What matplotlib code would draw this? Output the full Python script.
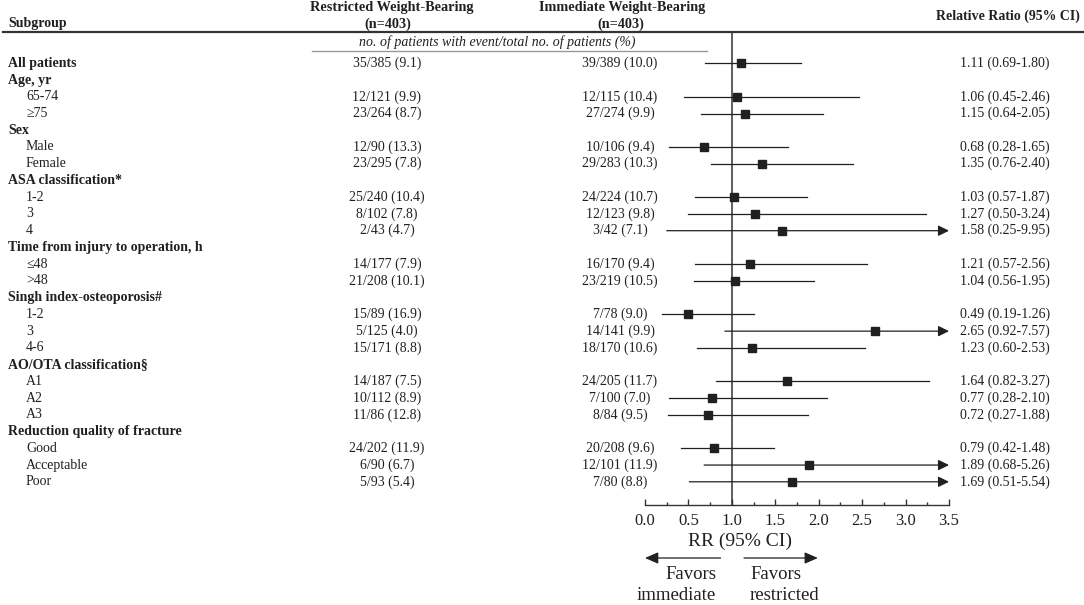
"""Forest plot of relative ratios by subgroup (restricted vs immediate weight-bearing)."""

import matplotlib
matplotlib.use("Agg")
import matplotlib.pyplot as plt
from matplotlib.lines import Line2D
from matplotlib.transforms import blended_transform_factory

# ---- data -------------------------------------------------------------
labels = [
    "All patients",
    "Age, yr", "65-74", "\u226575",
    "Sex", "Male", "Female",
    "ASA classification*", "1-2", "3", "4",
    "Time from injury to operation, h", "\u226448", ">48",
    "Singh index-osteoporosis#", "1-2", "3", "4-6",
    "AO/OTA classification\u00a7", "A1", "A2", "A3",
    "Reduction quality of fracture", "Good", "Acceptable", "Poor",
]
is_header = [
    True,
    True, False, False,
    True, False, False,
    True, False, False, False,
    True, False, False,
    True, False, False, False,
    True, False, False, False,
    True, False, False, False,
]
restricted = [
    "35/385 (9.1)",
    None, "12/121 (9.9)", "23/264 (8.7)",
    None, "12/90 (13.3)", "23/295 (7.8)",
    None, "25/240 (10.4)", "8/102 (7.8)", "2/43 (4.7)",
    None, "14/177 (7.9)", "21/208 (10.1)",
    None, "15/89 (16.9)", "5/125 (4.0)", "15/171 (8.8)",
    None, "14/187 (7.5)", "10/112 (8.9)", "11/86 (12.8)",
    None, "24/202 (11.9)", "6/90 (6.7)", "5/93 (5.4)",
]
immediate = [
    "39/389 (10.0)",
    None, "12/115 (10.4)", "27/274 (9.9)",
    None, "10/106 (9.4)", "29/283 (10.3)",
    None, "24/224 (10.7)", "12/123 (9.8)", "3/42 (7.1)",
    None, "16/170 (9.4)", "23/219 (10.5)",
    None, "7/78 (9.0)", "14/141 (9.9)", "18/170 (10.6)",
    None, "24/205 (11.7)", "7/100 (7.0)", "8/84 (9.5)",
    None, "20/208 (9.6)", "12/101 (11.9)", "7/80 (8.8)",
]
rr = [1.11, None, 1.06, 1.15, None, 0.68, 1.35, None, 1.03, 1.27, 1.58,
      None, 1.21, 1.04, None, 0.49, 2.65, 1.23, None, 1.64, 0.77, 0.72,
      None, 0.79, 1.89, 1.69]
ci_lo = [0.69, None, 0.45, 0.64, None, 0.28, 0.76, None, 0.57, 0.50, 0.25,
         None, 0.57, 0.56, None, 0.19, 0.92, 0.60, None, 0.82, 0.28, 0.27,
         None, 0.42, 0.68, 0.51]
ci_hi = [1.80, None, 2.46, 2.05, None, 1.65, 2.40, None, 1.87, 3.24, 9.95,
         None, 2.56, 1.95, None, 1.26, 7.57, 2.53, None, 3.27, 2.10, 1.88,
         None, 1.48, 5.26, 5.54]

x_max = 3.5
x_ticks = [0.0, 0.5, 1.0, 1.5, 2.0, 2.5, 3.0, 3.5]

# ---- layout -----------------------------------------------------------
W, H = 1084, 605
INK = "#231f20"
plt.rcParams["font.family"] = ["Liberation Serif", "DejaVu Serif"]
plt.rcParams["font.size"] = 10


def fx(px):
    return px / W


def fy(py):
    return 1 - py / H


fig = plt.figure(figsize=(W / 100, H / 100), dpi=100)
fig.patch.set_facecolor("white")

ax_top, ax_bot = 32, 505
row0, row_step = 63.3, 16.74
ax = fig.add_axes([fx(645), fy(ax_bot), fx(949) - fx(645), (ax_bot - ax_top) / H])
ax.set_xlim(0, x_max)
ax.set_ylim((ax_bot - row0) / row_step, -(row0 - ax_top) / row_step)
ax.patch.set_alpha(0)
for side in ["top", "left", "right"]:
    ax.spines[side].set_visible(False)
ax.spines["bottom"].set_color("#333333")
ax.spines["bottom"].set_linewidth(1.0)
ax.set_yticks([])
ax.set_xticks(x_ticks)
ax.set_xticklabels([f"{t:.1f}" for t in x_ticks], fontsize=12, color=INK)
ax.set_xticks([t + 0.25 for t in x_ticks[:-1]], minor=True)
ax.tick_params(axis="x", which="major", direction="in", length=4.5, width=1,
               color="#333333", pad=6)
ax.tick_params(axis="x", which="minor", direction="in", length=2.5, width=1,
               color="#333333")

ax.axvline(1.0, color="#333333", lw=1.1, zorder=1)

# ---- forest marks -----------------------------------------------------
for i in range(len(labels)):
    if rr[i] is None:
        continue
    hi = ci_hi[i]
    if hi > x_max:
        ax.annotate("", xy=(x_max, i), xytext=(ci_lo[i], i),
                    arrowprops=dict(arrowstyle="-|>,head_length=0.65,head_width=0.32",
                                    color=INK, lw=0.9, shrinkA=0, shrinkB=0),
                    annotation_clip=False, zorder=2)
    else:
        ax.plot([ci_lo[i], hi], [i, i], color=INK, lw=0.9, zorder=2)
    ax.plot(rr[i], i, marker="s", ms=6, color=INK, zorder=3)

# ---- text columns -----------------------------------------------------
tr = blended_transform_factory(fig.transFigure, ax.transData)
for i, lab in enumerate(labels):
    if is_header[i]:
        ax.text(fx(8), i, lab, transform=tr, ha="left", va="center",
                fontweight="bold", color=INK, clip_on=False)
    else:
        ax.text(fx(26), i, lab, transform=tr, ha="left", va="center",
                color=INK, clip_on=False)
    if restricted[i] is not None:
        ax.text(fx(387), i, restricted[i], transform=tr, ha="center",
                va="center", color=INK, clip_on=False)
        ax.text(fx(620), i, immediate[i], transform=tr, ha="center",
                va="center", color=INK, clip_on=False)
        ax.text(fx(960), i, f"{rr[i]:.2f} ({ci_lo[i]:.2f}-{ci_hi[i]:.2f})",
                transform=tr, ha="left", va="center", color=INK, clip_on=False)

# ---- headers ----------------------------------------------------------
fig.text(fx(8), fy(24), "Subgroup", ha="left", va="center",
         fontweight="bold", color=INK)
fig.text(fx(392), fy(8), "Restricted Weight-Bearing", ha="center",
         va="center", fontweight="bold", color=INK, fontsize=10.3)
fig.text(fx(388), fy(24), "(n=403)", ha="center", va="center",
         fontweight="bold", color=INK, fontsize=10.3)
fig.text(fx(622), fy(8), "Immediate Weight-Bearing", ha="center",
         va="center", fontweight="bold", color=INK, fontsize=10.3)
fig.text(fx(621), fy(24), "(n=403)", ha="center", va="center",
         fontweight="bold", color=INK, fontsize=10.3)
fig.text(fx(1080), fy(16), "Relative Ratio (95% CI)", ha="right",
         va="center", fontweight="bold", color=INK)
fig.text(fx(497), fy(42), "no. of patients with event/total no. of patients (%)",
         ha="center", va="center", style="italic", color=INK)

fig.add_artist(Line2D([fx(3), fx(1084)], [fy(32), fy(32)], color="#333333", lw=1.6))
fig.add_artist(Line2D([fx(312), fx(707)], [fy(51), fy(51)], color="#999999", lw=1.0))

# ---- axis caption and direction arrows ------------------------------
fig.text(fx(740), fy(541), "RR (95% CI)", ha="center", va="center",
         fontsize=14, color=INK)
arrow_y = -(558 - ax_bot) / (ax_bot - ax_top)
arrow_kw = dict(arrowstyle="-|>,head_length=0.8,head_width=0.35", color=INK,
                lw=0.9, shrinkA=0, shrinkB=0)
ax.annotate("", xy=(0.0, arrow_y), xytext=(0.87, arrow_y),
            xycoords=("data", "axes fraction"), arrowprops=arrow_kw,
            annotation_clip=False)
ax.annotate("", xy=(1.99, arrow_y), xytext=(1.14, arrow_y),
            xycoords=("data", "axes fraction"), arrowprops=arrow_kw,
            annotation_clip=False)
fig.text(fx(716), fy(566), "Favors\nimmediate", ha="right", va="top",
         fontsize=13.5, color=INK, linespacing=1.3, multialignment="right")
fig.text(fx(750), fy(566), "Favors\nrestricted", ha="left", va="top",
         fontsize=13.5, color=INK, linespacing=1.3, multialignment="left")

fig.savefig("out.png", dpi=100)
